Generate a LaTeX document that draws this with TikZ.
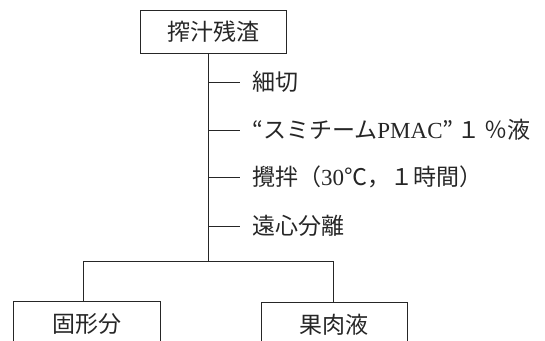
\documentclass[tikz,border=0pt]{standalone}
\usepackage{fontspec}
\setmainfont{Liberation Serif}
\newfontfamily\cjk{Noto Sans CJK JP}[Scale=1]
\tikzset{
  ln/.style={draw=black!85, line width=0.8pt},
  box/.style={ln, rectangle, inner sep=0pt, font=\cjk\fontsize{23}{27}\selectfont, text=black!85},
  lbl/.style={anchor=west, inner xsep=0pt, inner ysep=2pt, font=\fontsize{23}{27}\selectfont, text=black!85}
}
\begin{document}
\begin{tikzpicture}[x=1pt,y=-1pt]
\clip (0,0) rectangle (545,340);
\node[box, minimum width=146pt, minimum height=43pt] (top) at (213,31.5) {搾汁残渣};
\node[box, minimum width=147pt, minimum height=46pt] (left) at (86.5,324) {固形分};
\node[box, minimum width=146pt, minimum height=46pt] (right) at (334,325) {果肉液};
\coordinate (ts) at (208,53);
\coordinate (tb) at (208,261);
\coordinate (t1) at (208,82);
\coordinate (t2) at (208,130);
\coordinate (t3) at (208,177);
\coordinate (t4) at (208,226);
\coordinate (bl) at (83,261);
\coordinate (br) at (333,261);
\node[lbl] (l1) at (252,82) {\cjk 細切};
\node[lbl] (l2) at (252,130) {{\cjk “スミチーム}PMAC{\cjk ”\,１\,％液}};
\node[lbl] (l3) at (252,177) {{\cjk 攪拌（}30{\cjk ℃，１時間）}};
\node[lbl] (l4) at (252,226) {\cjk 遠心分離};
\draw[ln] (ts) -- (tb);
\draw[ln] (t1) -- ([xshift=-12pt]l1.west);
\draw[ln] (t2) -- ([xshift=-12pt]l2.west);
\draw[ln] (t3) -- ([xshift=-12pt]l3.west);
\draw[ln] (t4) -- ([xshift=-12pt]l4.west);
\draw[ln] (bl) -- (br);
\draw[ln] (bl) -- (bl |- left.north);
\draw[ln] (br) -- (br |- right.north);
\end{tikzpicture}
\end{document}
